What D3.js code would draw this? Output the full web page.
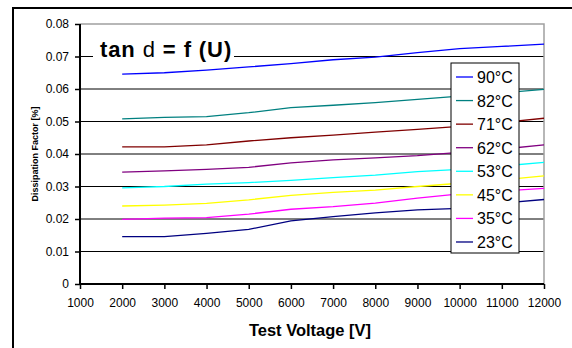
<!DOCTYPE html>
<html>
<head>
<meta charset="utf-8">
<script src="https://cdn.jsdelivr.net/npm/d3@7"></script>
<style>
  body { margin: 0; background: #fff; }
  svg { display: block; font-family: Arial, "Liberation Sans", sans-serif; }
</style>
</head>
<body>
<div class="chart"></div>
<script>
// test voltages [V]
let voltages = [2000, 3000, 4000, 5000, 6000, 7000, 8000, 9000, 10000, 11000, 12000];

// dissipation factor per temperature
let t90 = [0.0646, 0.0650, 0.0658, 0.0668, 0.0678, 0.0690, 0.0698, 0.0712, 0.0724, 0.0731, 0.0738];
let t82 = [0.0508, 0.0513, 0.0515, 0.0527, 0.0543, 0.0550, 0.0558, 0.0568, 0.0578, 0.0588, 0.0599];
let t71 = [0.0422, 0.0422, 0.0428, 0.0440, 0.0450, 0.0458, 0.0467, 0.0476, 0.0485, 0.0497, 0.0510];
let t62 = [0.0344, 0.0348, 0.0353, 0.0359, 0.0373, 0.0382, 0.0388, 0.0395, 0.0405, 0.0415, 0.0428];
let t53 = [0.0296, 0.0300, 0.0307, 0.0312, 0.0319, 0.0327, 0.0335, 0.0346, 0.0353, 0.0363, 0.0374];
let t45 = [0.0240, 0.0243, 0.0248, 0.0259, 0.0273, 0.0282, 0.0289, 0.0300, 0.0310, 0.0320, 0.0333];
let t35 = [0.0199, 0.0203, 0.0204, 0.0215, 0.0230, 0.0238, 0.0249, 0.0264, 0.0277, 0.0286, 0.0294];
let t23 = [0.0146, 0.0146, 0.0156, 0.0168, 0.0194, 0.0207, 0.0219, 0.0228, 0.0233, 0.0249, 0.0260];

let seriesNames = ["90°C", "82°C", "71°C", "62°C", "53°C", "45°C", "35°C", "23°C"];
let seriesValues = [t90, t82, t71, t62, t53, t45, t35, t23];
let colors = ["#0000ff", "#008080", "#800000", "#800080", "#00ffff", "#ffff00", "#ff00ff", "#000080"];

let xTicks = [1000, 2000, 3000, 4000, 5000, 6000, 7000, 8000, 9000, 10000, 11000, 12000];
let yTicks = [0, 0.01, 0.02, 0.03, 0.04, 0.05, 0.06, 0.07, 0.08];

let chartWidth = 572, chartHeight = 348;
let plotLeft = 80, plotRight = 544, plotTop = 24, plotBottom = 284;

let svg = d3.select(".chart").append("svg")
  .attr("width", chartWidth)
  .attr("height", chartHeight);

// outer frame (cropped)
svg.append("line").attr("x1", 13).attr("x2", chartWidth).attr("y1", 8).attr("y2", 8)
  .attr("stroke", "#000").attr("stroke-width", 2);
svg.append("line").attr("x1", 13).attr("x2", 13).attr("y1", 7).attr("y2", chartHeight)
  .attr("stroke", "#000").attr("stroke-width", 2);

let x = d3.scaleLinear().domain([1000, 12000]).range([plotLeft, plotRight]);
let y = d3.scaleLinear().domain([0, 0.08]).range([plotBottom, plotTop]);

// gridlines
svg.append("g")
  .selectAll("line")
  .data(yTicks.filter(d => d > 0 && d < 0.08))
  .join("line")
  .attr("x1", plotLeft).attr("x2", plotRight)
  .attr("y1", d => y(d)).attr("y2", d => y(d))
  .attr("stroke", "#000").attr("stroke-width", 1);

// plot border top/right (grey)
svg.append("path")
  .attr("d", `M${plotLeft},${plotTop}H${plotRight}V${plotBottom}`)
  .attr("fill", "none").attr("stroke", "#a0a0a0").attr("stroke-width", 1.5);

// series lines
let line = d3.line()
  .x((d, i) => x(voltages[i]))
  .y(d => y(d));

seriesValues.forEach(function (vals, i) {
  svg.append("path")
    .datum(vals)
    .attr("fill", "none")
    .attr("stroke", colors[i])
    .attr("stroke-width", 1.3)
    .attr("d", line);
});

// axes
let yAxis = d3.axisLeft(y).tickValues(yTicks).tickSize(5).tickPadding(6)
  .tickFormat(d => d === 0 ? "0" : d3.format(".2f")(d));
let yAxisGroup = svg.append("g").attr("transform", `translate(${plotLeft},0)`).call(yAxis);

let xAxis = d3.axisBottom(x).tickValues(xTicks).tickSize(5).tickPadding(9)
  .tickFormat(d3.format("d"));
let xAxisGroup = svg.append("g").attr("transform", `translate(0,${plotBottom})`).call(xAxis);

[yAxisGroup, xAxisGroup].forEach(function (g) {
  g.select(".domain").attr("stroke", "#000").attr("stroke-width", 2);
  g.selectAll(".tick line").attr("stroke", "#000").attr("stroke-width", 1.5);
  g.selectAll(".tick text").attr("font-size", "12px").attr("fill", "#000")
    .attr("font-family", "Arial, 'Liberation Sans', sans-serif");
});
yAxisGroup.select(".domain").attr("d", `M0,${plotTop}V${plotBottom}`);
xAxisGroup.select(".domain").attr("d", `M${plotLeft},0H${plotRight}`);

// title with white backing
svg.append("rect")
  .attr("x", 93).attr("y", 36).attr("width", 141).attr("height", 27)
  .attr("fill", "#fff");
let title = svg.append("text")
  .attr("x", 100).attr("y", 57)
  .attr("font-size", "22px").attr("letter-spacing", "0.9px").attr("fill", "#000");
title.append("tspan").attr("font-weight", "bold").text("tan ");
title.append("tspan").attr("font-weight", "normal").text("d");
title.append("tspan").attr("font-weight", "bold").text(" = f (U)");

// axis titles
svg.append("text")
  .attr("transform", "translate(38,154) rotate(-90)")
  .attr("text-anchor", "middle")
  .attr("font-size", "9px").attr("font-weight", "bold")
  .text("Dissipation Factor [%]");

svg.append("text")
  .attr("x", 310).attr("y", 336)
  .attr("text-anchor", "middle")
  .attr("font-size", "16.5px").attr("font-weight", "bold")
  .text("Test Voltage [V]");

// legend
let legend = svg.append("g");
legend.append("rect")
  .attr("x", 451).attr("y", 63).attr("width", 68).attr("height", 190)
  .attr("fill", "#fff").attr("stroke", "#000").attr("stroke-width", 1);

let rowY = 77, rowStep = 23.57;
seriesNames.forEach(function (name, i) {
  let cy = rowY + i * rowStep;
  legend.append("line")
    .attr("x1", 456).attr("x2", 473)
    .attr("y1", cy).attr("y2", cy)
    .attr("stroke", colors[i]).attr("stroke-width", 1.3);
  legend.append("text")
    .attr("x", 477).attr("y", cy + 6)
    .attr("font-size", "16px").attr("fill", "#000")
    .text(name);
});
</script>
</body>
</html>
